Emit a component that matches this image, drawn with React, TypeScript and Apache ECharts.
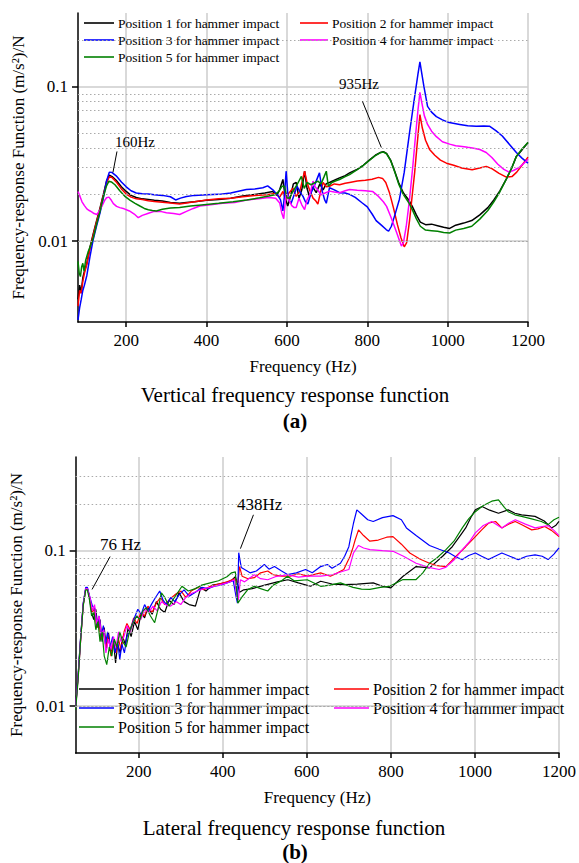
import React, { useEffect, useRef } from "react";
import * as echarts from "echarts";

const FONT = "Liberation Serif";
const NAMES = [
  "Position 1 for hammer impact",
  "Position 2 for hammer impact",
  "Position 3 for hammer impact",
  "Position 4 for hammer impact",
  "Position 5 for hammer impact",
];
const COLORS = ["#000000", "#ff0000", "#0000ff", "#ff00ff", "#008000"];

// (a) Vertical frequency response function: [Hz, (m/s^2)/N]
const vPos1: [number, number][] = [[80,0.0042],[84,0.0052],[88,0.0047],[92,0.0058],[96,0.0064],[102,0.0072],[110,0.0092],[118,0.0112],[126,0.0135],[135,0.0165],[143,0.02],[151,0.0245],[158,0.0268],[165,0.0262],[175,0.0248],[188,0.0225],[200,0.021],[212,0.0198],[225,0.0192],[240,0.0188],[255,0.0186],[270,0.0184],[290,0.0182],[310,0.0178],[333,0.0176],[350,0.0178],[370,0.018],[400,0.0184],[430,0.0186],[460,0.019],[490,0.0196],[520,0.0201],[545,0.0205],[565,0.021],[575,0.0198],[582,0.0216],[590,0.0251],[596,0.019],[602,0.0169],[610,0.02],[616,0.0235],[623,0.024],[630,0.019],[637,0.0215],[644,0.0284],[650,0.022],[656,0.0194],[664,0.0225],[673,0.0206],[682,0.0235],[690,0.0215],[698,0.0236],[706,0.024],[718,0.0248],[731,0.0257],[745,0.0266],[756,0.0277],[773,0.029],[790,0.031],[805,0.0335],[820,0.036],[832,0.0375],[840,0.038],[848,0.037],[858,0.0335],[868,0.0285],[878,0.024],[890,0.0205],[903,0.0185],[912,0.0168],[922,0.0148],[932,0.0133],[945,0.0128],[960,0.0129],[975,0.0126],[990,0.0123],[1005,0.0121],[1020,0.0127],[1040,0.0131],[1060,0.0136],[1080,0.0148],[1100,0.0165],[1115,0.0185],[1130,0.0212],[1146,0.0252],[1160,0.03],[1171,0.0354],[1185,0.039],[1200,0.0435]];
const vPos2: [number, number][] = [[80,0.0038],[84,0.0048],[88,0.0046],[92,0.0055],[96,0.0062],[102,0.0071],[110,0.009],[118,0.011],[126,0.0133],[135,0.0162],[143,0.0198],[151,0.0238],[158,0.0262],[165,0.0258],[175,0.0242],[188,0.0218],[200,0.0202],[212,0.0193],[225,0.0188],[240,0.0186],[255,0.0183],[270,0.0181],[290,0.0179],[310,0.0177],[333,0.0174],[350,0.0177],[370,0.018],[400,0.0185],[430,0.0188],[460,0.019],[490,0.0194],[520,0.0198],[550,0.02],[570,0.0204],[582,0.0193],[590,0.021],[597,0.0185],[605,0.0205],[615,0.022],[623,0.0195],[632,0.021],[638,0.0245],[644,0.0284],[650,0.024],[656,0.0216],[665,0.019],[672,0.0182],[677,0.0174],[684,0.021],[690,0.024],[698,0.0225],[706,0.0227],[718,0.0235],[731,0.0232],[745,0.0237],[756,0.024],[775,0.0245],[795,0.0248],[812,0.0252],[828,0.0259],[838,0.0255],[846,0.024],[855,0.0207],[865,0.0165],[875,0.0128],[884,0.0105],[892,0.0092],[898,0.0098],[905,0.0135],[912,0.02],[918,0.028],[924,0.042],[931,0.066],[937,0.054],[945,0.045],[955,0.0393],[968,0.036],[982,0.0335],[997,0.032],[1015,0.031],[1035,0.0298],[1061,0.029],[1080,0.0298],[1096,0.0305],[1110,0.0295],[1128,0.0275],[1146,0.026],[1160,0.0262],[1172,0.028],[1185,0.031],[1200,0.035]];
const vPos3: [number, number][] = [[80,0.0031],[84,0.0037],[88,0.0042],[92,0.0048],[96,0.0052],[102,0.006],[110,0.008],[118,0.0103],[126,0.0125],[135,0.0153],[143,0.019],[151,0.0245],[158,0.028],[165,0.0278],[175,0.0265],[188,0.0242],[200,0.0225],[212,0.0212],[225,0.0205],[240,0.0203],[255,0.0202],[270,0.02],[290,0.0198],[310,0.0194],[323,0.0185],[335,0.019],[350,0.0195],[370,0.0198],[400,0.02],[430,0.0201],[460,0.0205],[499,0.0216],[520,0.0218],[540,0.0222],[552,0.0228],[565,0.0215],[576,0.02],[584,0.0185],[590,0.0157],[594,0.02],[598,0.0284],[603,0.019],[610,0.0175],[618,0.02],[625,0.0227],[632,0.021],[640,0.0195],[646,0.018],[652,0.0174],[660,0.0205],[670,0.0235],[681,0.0277],[688,0.021],[694,0.0185],[698,0.0176],[706,0.0222],[718,0.0215],[731,0.0206],[745,0.0205],[756,0.0201],[770,0.0192],[786,0.0178],[800,0.0167],[812,0.015],[822,0.0136],[835,0.0127],[847,0.0119],[853,0.0116],[860,0.0125],[870,0.0152],[880,0.0187],[892,0.028],[905,0.05],[917,0.083],[926,0.12],[931,0.145],[936,0.12],[941,0.1],[950,0.0746],[960,0.0685],[972,0.064],[987,0.061],[1004,0.0586],[1030,0.057],[1050,0.0558],[1071,0.0555],[1090,0.0557],[1104,0.0555],[1120,0.052],[1136,0.048],[1155,0.042],[1171,0.0375],[1185,0.0345],[1200,0.032]];
const vPos4: [number, number][] = [[80,0.021],[85,0.0195],[90,0.018],[96,0.017],[102,0.0162],[108,0.0158],[114,0.0155],[120,0.0151],[127,0.0149],[134,0.0158],[141,0.0172],[147,0.0185],[151,0.0191],[157,0.0193],[163,0.0184],[168,0.0175],[176,0.0168],[184,0.0165],[195,0.0162],[208,0.0157],[220,0.015],[230,0.0142],[240,0.0147],[250,0.015],[259,0.0153],[270,0.0156],[285,0.0156],[300,0.0153],[318,0.0151],[333,0.0149],[350,0.0156],[367,0.0163],[383,0.0169],[410,0.0172],[440,0.0176],[470,0.0178],[500,0.0185],[530,0.0188],[555,0.0192],[572,0.019],[582,0.0177],[587,0.0153],[592,0.014],[598,0.0206],[605,0.0185],[612,0.017],[618,0.0165],[623,0.0165],[630,0.019],[637,0.0172],[644,0.016],[650,0.0185],[657,0.02],[665,0.0245],[670,0.0225],[676,0.0216],[685,0.02],[695,0.0205],[706,0.0211],[718,0.0208],[731,0.0206],[745,0.0212],[756,0.0216],[775,0.0214],[795,0.0212],[813,0.021],[828,0.0195],[840,0.018],[848,0.0168],[858,0.0145],[866,0.0128],[873,0.0114],[880,0.0101],[885,0.0093],[890,0.0098],[897,0.0125],[905,0.0185],[913,0.03],[920,0.048],[926,0.07],[931,0.092],[936,0.078],[942,0.065],[950,0.057],[960,0.0515],[972,0.0475],[987,0.044],[1005,0.0425],[1020,0.0415],[1036,0.041],[1050,0.0405],[1065,0.04],[1080,0.0392],[1096,0.0375],[1110,0.0348],[1125,0.0315],[1140,0.0292],[1153,0.028],[1165,0.0288],[1178,0.03],[1190,0.032],[1200,0.034]];
const vPos5: [number, number][] = [[80,0.0074],[83,0.0062],[86,0.0059],[89,0.0068],[92,0.0072],[95,0.0064],[99,0.0075],[105,0.0085],[112,0.0095],[118,0.0105],[126,0.0128],[135,0.0157],[143,0.0193],[151,0.0228],[157,0.0245],[163,0.0242],[172,0.0232],[184,0.0212],[196,0.0196],[210,0.0184],[222,0.0176],[234,0.0169],[245,0.0163],[255,0.016],[265,0.0158],[275,0.0157],[290,0.0161],[310,0.0164],[333,0.0165],[360,0.0169],[400,0.0173],[430,0.0176],[466,0.018],[500,0.0185],[532,0.0191],[555,0.0196],[570,0.02],[580,0.021],[588,0.0227],[594,0.0227],[600,0.0191],[606,0.019],[615,0.021],[625,0.0232],[636,0.0263],[643,0.022],[650,0.024],[660,0.0232],[668,0.0238],[677,0.0245],[685,0.0235],[692,0.026],[698,0.0284],[703,0.0227],[712,0.024],[722,0.0246],[731,0.0251],[745,0.0262],[756,0.027],[773,0.0288],[790,0.031],[805,0.0333],[820,0.0358],[832,0.0373],[840,0.0378],[848,0.0368],[858,0.0333],[868,0.0283],[878,0.0235],[890,0.02],[903,0.0178],[912,0.016],[922,0.014],[932,0.0125],[945,0.0118],[960,0.0117],[975,0.0116],[990,0.0114],[1005,0.0113],[1020,0.0118],[1040,0.0121],[1060,0.0125],[1080,0.0139],[1100,0.0158],[1115,0.018],[1130,0.0209],[1146,0.0252],[1160,0.03],[1171,0.0354],[1185,0.0395],[1200,0.0435]];

// (b) Lateral frequency response function
const lPos1: [number, number][] = [[50,0.01],[56,0.016],[62,0.028],[68,0.045],[74,0.057],[78,0.057],[83,0.05],[88,0.04],[93,0.036],[98,0.042],[103,0.032],[108,0.036],[113,0.026],[118,0.032],[123,0.023],[128,0.03],[134,0.022],[140,0.026],[145,0.019],[150,0.025],[156,0.022],[162,0.028],[168,0.025],[175,0.032],[182,0.028],[190,0.035],[198,0.031],[206,0.04],[214,0.037],[222,0.043],[232,0.039],[242,0.047],[252,0.042],[262,0.04],[272,0.048],[284,0.045],[296,0.0536],[308,0.047],[320,0.045],[335,0.044],[348,0.058],[360,0.055],[375,0.06],[390,0.061],[405,0.062],[420,0.064],[430,0.068],[436,0.06],[440,0.054],[450,0.056],[470,0.057],[500,0.06],[530,0.063],[555,0.065],[580,0.062],[609,0.059],[633,0.0636],[660,0.061],[690,0.0605],[720,0.061],[758,0.062],[780,0.059],[800,0.0577],[829,0.0685],[860,0.079],[892,0.0775],[923,0.092],[946,0.106],[965,0.125],[978,0.14],[990,0.163],[1001,0.183],[1017,0.192],[1035,0.182],[1056,0.174],[1079,0.183],[1095,0.174],[1111,0.17],[1143,0.166],[1165,0.155],[1182,0.14],[1192,0.145],[1200,0.154]];
const lPos2: [number, number][] = [[50,0.0098],[56,0.0155],[62,0.027],[68,0.045],[74,0.057],[78,0.057],[84,0.049],[90,0.04],[95,0.043],[100,0.032],[105,0.036],[110,0.027],[116,0.032],[122,0.024],[128,0.029],[134,0.021],[140,0.026],[146,0.022],[152,0.027],[158,0.023],[165,0.03],[172,0.034],[180,0.031],[188,0.037],[196,0.034],[205,0.04],[214,0.038],[222,0.044],[232,0.04],[242,0.046],[252,0.05],[262,0.045],[275,0.049],[290,0.053],[301,0.055],[312,0.05],[325,0.055],[340,0.058],[355,0.056],[370,0.059],[390,0.061],[410,0.063],[428,0.066],[436,0.062],[440,0.079],[446,0.0685],[460,0.066],[475,0.067],[490,0.072],[507,0.074],[520,0.07],[540,0.0685],[560,0.0685],[580,0.071],[602,0.0685],[633,0.072],[656,0.0685],[673,0.072],[688,0.0756],[703,0.092],[710,0.105],[715,0.117],[723,0.136],[735,0.125],[750,0.115],[770,0.117],[790,0.122],[805,0.123],[825,0.11],[845,0.0966],[870,0.088],[892,0.083],[910,0.08],[931,0.079],[955,0.092],[978,0.106],[1001,0.123],[1015,0.135],[1032,0.15],[1049,0.154],[1064,0.14],[1080,0.148],[1096,0.154],[1115,0.145],[1135,0.136],[1150,0.138],[1166,0.143],[1182,0.135],[1200,0.123]];
const lPos3: [number, number][] = [[50,0.0098],[56,0.016],[62,0.028],[68,0.046],[74,0.058],[78,0.058],[84,0.05],[90,0.044],[96,0.042],[101,0.033],[106,0.038],[111,0.028],[116,0.033],[121,0.025],[126,0.03],[132,0.024],[138,0.028],[144,0.022],[150,0.026],[155,0.02],[160,0.025],[166,0.022],[172,0.028],[180,0.031],[188,0.036],[198,0.042],[206,0.039],[214,0.045],[222,0.041],[232,0.046],[240,0.05],[250,0.055],[258,0.048],[266,0.045],[276,0.05],[286,0.047],[296,0.052],[308,0.056],[320,0.051],[335,0.054],[350,0.058],[365,0.057],[380,0.059],[395,0.06],[410,0.062],[425,0.064],[432,0.05],[435,0.046],[438,0.097],[444,0.078],[452,0.0756],[465,0.072],[480,0.074],[499,0.0814],[510,0.076],[523,0.079],[540,0.074],[554,0.0702],[575,0.072],[597,0.0756],[613,0.072],[633,0.079],[649,0.0814],[660,0.077],[680,0.083],[690,0.092],[700,0.106],[705,0.125],[711,0.15],[719,0.183],[730,0.172],[745,0.158],[758,0.154],[780,0.163],[805,0.168],[825,0.158],[837,0.14],[860,0.125],[892,0.108],[915,0.102],[939,0.0966],[955,0.091],[970,0.0876],[985,0.093],[1001,0.0966],[1016,0.092],[1032,0.0876],[1048,0.092],[1064,0.0966],[1083,0.092],[1103,0.0876],[1123,0.092],[1143,0.094],[1160,0.092],[1174,0.0876],[1188,0.095],[1200,0.104]];
const lPos4: [number, number][] = [[50,0.0097],[56,0.0155],[62,0.027],[68,0.045],[74,0.057],[78,0.057],[84,0.05],[90,0.041],[95,0.045],[100,0.034],[106,0.038],[111,0.029],[117,0.031],[122,0.022],[128,0.027],[134,0.023],[140,0.028],[146,0.024],[152,0.03],[158,0.026],[165,0.028],[172,0.033],[180,0.03],[188,0.035],[196,0.038],[205,0.036],[214,0.042],[224,0.04],[234,0.044],[244,0.041],[254,0.047],[264,0.045],[276,0.044],[290,0.047],[300,0.045],[312,0.05],[325,0.053],[340,0.055],[355,0.057],[370,0.058],[390,0.06],[410,0.062],[428,0.065],[434,0.05],[437,0.048],[442,0.065],[452,0.063],[475,0.07],[490,0.066],[507,0.065],[525,0.068],[554,0.07],[580,0.0675],[602,0.0685],[633,0.0685],[660,0.07],[688,0.074],[700,0.0756],[711,0.0966],[723,0.108],[735,0.104],[750,0.1015],[780,0.1],[805,0.099],[830,0.092],[860,0.083],[890,0.078],[915,0.0756],[930,0.078],[950,0.087],[970,0.1015],[988,0.115],[1001,0.13],[1020,0.145],[1040,0.154],[1064,0.14],[1080,0.15],[1096,0.158],[1120,0.148],[1143,0.14],[1160,0.143],[1174,0.145],[1188,0.135],[1200,0.125]];
const lPos5: [number, number][] = [[50,0.0095],[56,0.015],[62,0.027],[68,0.044],[74,0.056],[78,0.056],[83,0.048],[88,0.038],[93,0.04],[98,0.031],[103,0.035],[108,0.026],[113,0.03],[118,0.021],[124,0.0185],[130,0.024],[136,0.021],[142,0.027],[148,0.024],[155,0.03],[162,0.026],[170,0.024],[178,0.03],[186,0.034],[195,0.038],[203,0.036],[210,0.041],[218,0.043],[228,0.038],[238,0.0344],[246,0.042],[254,0.0536],[262,0.05],[272,0.044],[285,0.05],[303,0.059],[318,0.055],[335,0.057],[350,0.06],[370,0.062],[390,0.064],[410,0.068],[421,0.072],[430,0.073],[433,0.055],[436,0.046],[445,0.05],[460,0.0563],[475,0.059],[490,0.057],[507,0.055],[520,0.06],[540,0.064],[554,0.0685],[570,0.064],[601,0.065],[633,0.059],[655,0.06],[680,0.062],[710,0.058],[730,0.0565],[750,0.0563],[775,0.058],[797,0.059],[829,0.0652],[860,0.0652],[876,0.072],[892,0.083],[910,0.09],[931,0.1015],[950,0.115],[970,0.14],[985,0.16],[1001,0.178],[1020,0.195],[1040,0.208],[1056,0.212],[1070,0.19],[1079,0.178],[1095,0.17],[1111,0.166],[1135,0.16],[1158,0.154],[1174,0.147],[1188,0.158],[1200,0.164]];

// Minor (dotted) log grid values
const minorA = [0.004,0.005,0.006,0.007,0.008,0.009,0.02,0.03,0.04,0.05,0.06,0.07,0.08,0.09,0.2];
const minorB = [0.006,0.007,0.008,0.009,0.02,0.03,0.04,0.05,0.06,0.07,0.08,0.09,0.2,0.3];

// Annotation arrows: [fromHz, fromVal, toHz, toVal]
const arrowsA = [[177,0.0381,167,0.0279],[788,0.0803,835,0.0404]];
const arrowsB = [[473,0.17,442,0.103],[132,0.0916,89,0.0563]];

// A few font sizes only (sizes that render reliably in the serif face here)
const FS_AXIS = 17;
const FS_CAPTION = 21;
const FS_LEG_A = 13.5;
const FS_LEG_B = 16;
const FS_NOTE_A = 15;

export default function App() {
  const ref = useRef<HTMLDivElement>(null);
  useEffect(() => {
    document.body.style.margin = "0";
    const chart = echarts.init(ref.current!, null, { renderer: "svg" });
    const black = "#000";
    const mkX = (g: number, min: number) => ({
      type: "value", gridIndex: g, min, max: 1200, minInterval: 200, maxInterval: 200,
      name: "Frequency (Hz)", nameLocation: "middle", nameGap: 36,
      nameTextStyle: { fontFamily: FONT, fontSize: FS_AXIS, color: black },
      axisLine: { show: true, lineStyle: { color: black, width: 1.5 } },
      axisTick: { show: true, inside: false, length: 5, lineStyle: { color: black, width: 1.5 } },
      axisLabel: {
        fontFamily: FONT, fontSize: FS_AXIS, color: black, margin: 10, showMinLabel: false,
        formatter: (v: number) => String(v),
      },
      splitLine: { show: true, showMinLine: false, lineStyle: { color: "#cccccc", width: 1.5 } },
    });
    const mkY = (g: number, min: number, max: number, gap: number) => ({
      type: "log", logBase: 10, gridIndex: g, min, max,
      name: "Frequency-response Function (m/s²)/N", nameLocation: "middle", nameGap: gap,
      nameTextStyle: { fontFamily: FONT, fontSize: FS_AXIS, color: black },
      axisLine: { show: true, lineStyle: { color: black, width: 1.5 } },
      axisTick: { show: true, inside: false, length: 6, lineStyle: { color: black, width: 1.5 } },
      axisLabel: {
        fontFamily: FONT, fontSize: FS_AXIS, color: black, margin: 10, showMinLabel: false, showMaxLabel: false,
        formatter: (v: number) => String(v),
      },
      splitLine: { show: true, showMinLine: false, showMaxLine: false, lineStyle: { color: "#cccccc", width: 1.5 } },
    });
    const vData = [vPos1, vPos2, vPos3, vPos4, vPos5];
    const lData = [lPos1, lPos2, lPos3, lPos4, lPos5];
    const mkSeries = (g: number, data: [number, number][], i: number) => ({
      type: "line", name: NAMES[i], xAxisIndex: g, yAxisIndex: g, data,
      symbol: "none", showSymbol: false, z: 3,
      lineStyle: { color: COLORS[i], width: g === 0 ? 1.5 : 1.2 }, itemStyle: { color: COLORS[i] },
      emphasis: { disabled: true },
    });
    const minorSeries = (g: number, vals: number[]) => ({
      type: "line", name: "_minor" + g, xAxisIndex: g, yAxisIndex: g, data: [], z: 1, silent: true,
      markLine: {
        silent: true, symbol: ["none", "none"], label: { show: false },
        lineStyle: { type: [1.5, 2.5], color: "#aaaaaa", width: 1 },
        emphasis: { disabled: true },
        data: vals.map((v) => ({ yAxis: v })),
      },
    });
    const arrowSeries = (g: number, arr: number[][]) => ({
      type: "line", name: "_arrow" + g, xAxisIndex: g, yAxisIndex: g, data: [], z: 6, silent: true,
      markLine: {
        silent: true, symbol: ["none", "arrow"], symbolSize: [0, 8], label: { show: false },
        lineStyle: { type: "solid", color: black, width: 1 },
        emphasis: { disabled: true },
        data: arr.map((a) => [{ coord: [a[0], a[1]] }, { coord: [a[2], a[3]] }]),
      },
    });
    const legendBase = (left: number, top: number, w: number, fs: number, data: string[]) => ({
      left, top, orient: "vertical", padding: 0, itemWidth: w, itemHeight: 1.6, itemGap: 3,
      icon: "rect", selectedMode: false, data,
      textStyle: { fontFamily: FONT, fontSize: fs, color: black, padding: [0, 0, 0, -1] },
    });
    const txt = (x: number, y: number, text: string, size: number, align = "left", bold = false) => ({
      type: "text", x, y, z: 10,
      style: {
        text, fill: black, fontFamily: FONT, fontSize: size, fontWeight: bold ? "bold" : "normal",
        textAlign: align, textVerticalAlign: "middle", align, verticalAlign: "middle",
      },
    });
    const option = {
      animation: false,
      backgroundColor: "#ffffff",
      grid: [
        { left: 78, top: 13, width: 450, height: 309 },
        { left: 72, top: 457, width: 489, height: 296 },
      ],
      xAxis: [mkX(0, 80), mkX(1, 50)],
      yAxis: [mkY(0, 0.003, 0.3, 50), mkY(1, 0.005, 0.4, 46)],
      legend: [
        legendBase(84, 16, 30, FS_LEG_A, [NAMES[0], NAMES[2], NAMES[4]]),
        legendBase(300, 16, 28, FS_LEG_A, [NAMES[1], NAMES[3]]),
        legendBase(79, 681, 35, FS_LEG_B, [NAMES[0], NAMES[2], NAMES[4]]),
        legendBase(334, 681, 35, FS_LEG_B, [NAMES[1], NAMES[3]]),
      ],
      series: [
        minorSeries(0, minorA),
        minorSeries(1, minorB),
        ...vData.map((d, i) => mkSeries(0, d, i)),
        ...lData.map((d, i) => mkSeries(1, d, i)),
        arrowSeries(0, arrowsA),
        arrowSeries(1, arrowsB),
      ],
      graphic: [
        txt(115, 142, "160Hz", FS_NOTE_A),
        txt(339, 84, "935Hz", FS_NOTE_A),
        txt(237, 504, "438Hz", FS_AXIS),
        txt(100, 544, "76 Hz", FS_AXIS),
        txt(295, 395, "Vertical frequency response function", FS_CAPTION, "center"),
        txt(295, 421, "(a)", FS_CAPTION, "center", true),
        txt(294, 828, "Lateral frequency response function", FS_CAPTION, "center"),
        txt(295, 852, "(b)", FS_CAPTION, "center", true),
      ],
    };
    chart.setOption(option as any);
    return () => chart.dispose();
  }, []);
  return <div ref={ref} style={{ width: 579, height: 863 }} />;
}
